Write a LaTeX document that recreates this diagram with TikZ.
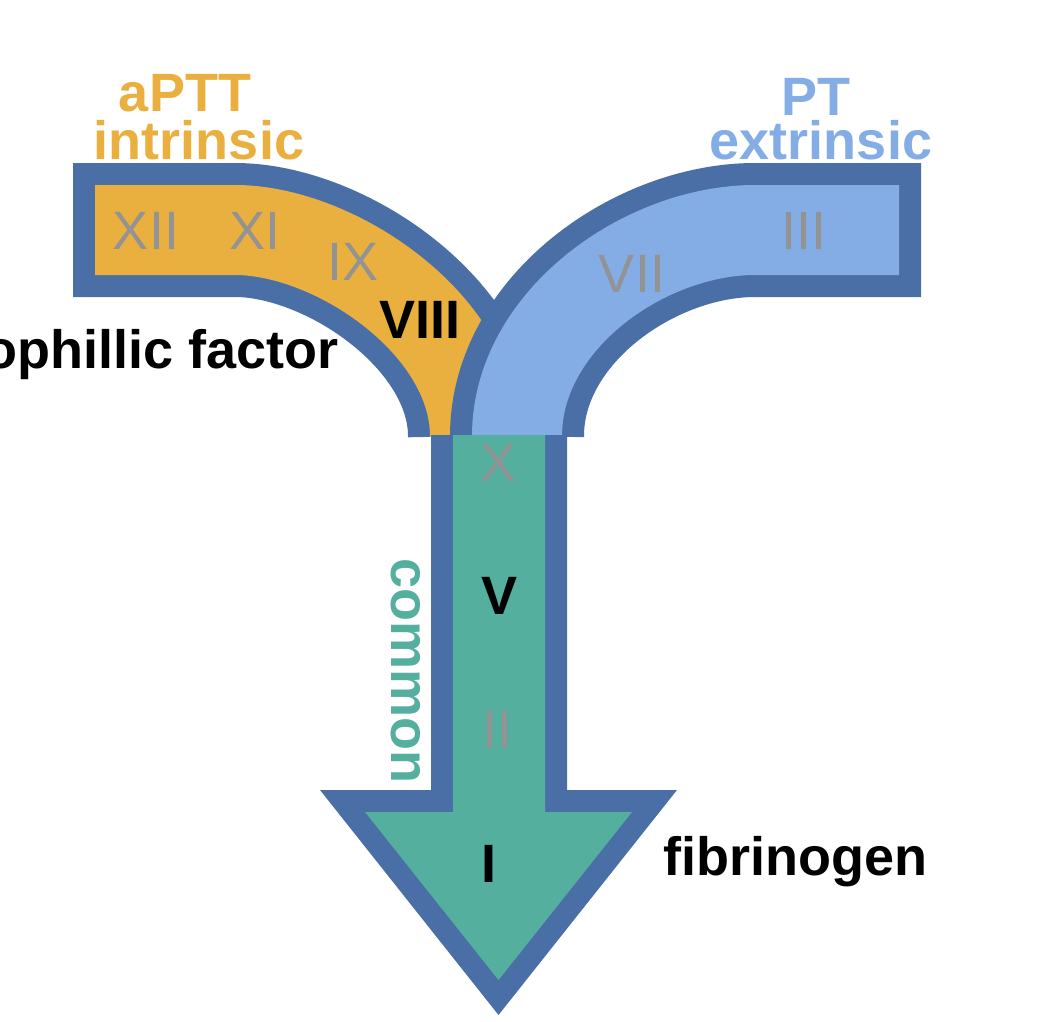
\documentclass[tikz,border=0pt]{standalone}
\usepackage{fontspec}
\setmainfont{Liberation Sans}
\definecolor{bord}{HTML}{4A6FA6}
\definecolor{orng}{HTML}{E9B040}
\definecolor{lblue}{HTML}{84ADE6}
\definecolor{tealc}{HTML}{54AF9E}
\definecolor{gtext}{HTML}{939393}
\begin{document}
\begin{tikzpicture}[x=1pt,y=-1pt,
  lab/.style={font=\fontsize{54}{54}\selectfont\bfseries, inner sep=0pt, anchor=base},
  num/.style={font=\fontsize{54}{54}\selectfont, text=gtext, inner sep=0pt, anchor=base},
  bnum/.style={font=\fontsize{54}{54}\selectfont\bfseries, text=black, inner sep=0pt, anchor=base},
  outerarm/.style={draw=bord, line width=134pt},
  innerarm/.style={line width=90pt},
]
\useasboundingbox (0,0) rectangle (1044,1022);

% intrinsic (left) arm
\path[outerarm] (73,230) -- (235,230) .. controls (335,230) and (475,325) .. (475,436);
\path[innerarm, draw=orng] (95,230) -- (235,230) .. controls (335,230) and (475,325) .. (475,436);
% extrinsic (right) arm
\path[outerarm] (921,230) -- (755,230) .. controls (645,230) and (517,320) .. (517,436);
\path[innerarm, draw=lblue] (899,230) -- (755,230) .. controls (645,230) and (517,320) .. (517,436);
% common stem with arrowhead
\fill[bord] (431,435) -- (431,790) -- (320,790) -- (498.5,1015) -- (677,790) -- (567,790) -- (567,435) -- cycle;
\fill[tealc] (453,435) -- (453,812) -- (365,812) -- (498.5,980) -- (632,812) -- (545,812) -- (545,435) -- cycle;

% headings
\node[lab, text=orng, align=center, anchor=south, font=\fontsize{54}{48}\selectfont\bfseries] (intr) at (199,160) {aPTT\hspace*{28pt}\\intrinsic};
\node[lab, text=lblue, align=center, anchor=south, font=\fontsize{54}{44}\selectfont\bfseries] (extr) at (821,160) {PT\hspace*{10pt}\\extrinsic};
\node[lab, text=tealc, rotate=-90] (common) at (391,671) {common};

% factors
\node[num] (f12) at (146,249) {XII};
\node[num] (f11) at (255,249) {XI};
\node[num] (f9) at (353,280) {IX};
\node[bnum] (f8) at (420,338) {VIII};
\node[num] (f7) at (632,292) {VII};
\node[num] (f3) at (804,249) {III};
\node[num] (f10) at (499,481) {X};
\node[bnum] (f5) at (500,614) {V};
\node[num] (f2) at (497,748) {II};
\node[bnum] (f1) at (489,882) {I};

% side labels
\node[lab, text=black, anchor=base east] (hemo) at (339,368) {hemophillic factor};
\node[lab, text=black, anchor=base west] (fib) at (663,875) {fibrinogen};
\end{tikzpicture}
\end{document}
